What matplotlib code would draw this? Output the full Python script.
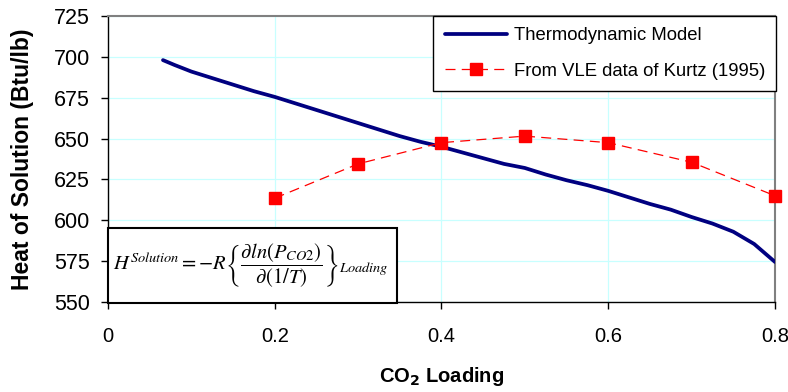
import matplotlib
matplotlib.use("Agg")
import matplotlib.pyplot as plt
from matplotlib.patches import Rectangle

plt.rcParams['font.family'] = ['Liberation Sans', 'DejaVu Sans']
plt.rcParams['mathtext.fontset'] = 'stix'

# Thermodynamic model curve
model_x = [0.066, 0.08, 0.10, 0.125, 0.15, 0.175, 0.20, 0.225, 0.25, 0.275, 0.30,
           0.325, 0.35, 0.375, 0.40, 0.425, 0.45, 0.475, 0.50, 0.525, 0.55,
           0.575, 0.60, 0.625, 0.65, 0.675, 0.70, 0.725, 0.75, 0.775, 0.80]
model_y = [698, 695, 691, 687, 683, 679, 675.5, 671.5, 667.5, 663.5, 659.5,
           655.5, 651.5, 648, 645, 641.5, 638, 634.5, 632, 628, 624.5,
           621.5, 618, 614, 610, 606.5, 602, 598, 593, 585.5, 574.5]

# VLE data of Kurtz (1995)
vle_x = [0.2, 0.3, 0.4, 0.5, 0.6, 0.7, 0.8]
vle_y = [613.5, 634.5, 647.5, 651.5, 647.5, 635.5, 615.0]

xticks = [0, 0.2, 0.4, 0.6, 0.8]
xticklabels = ['0', '0.2', '0.4', '0.6', '0.8']
yticks = [550, 575, 600, 625, 650, 675, 700, 725]

fig = plt.figure(figsize=(7.88, 3.92), dpi=100)
ax = fig.add_axes([0.137, 0.2296, 0.8465, 0.7296])

ax.plot(model_x, model_y, color='#000080', lw=2.7, label='Thermodynamic Model',
        solid_capstyle='round', zorder=3)
ax.plot(vle_x, vle_y, color='#ff0000', lw=0.9, ls=(0, (8, 5)), marker='s',
        markersize=8, markerfacecolor='#ff0000', markeredgecolor='#ff0000',
        label='From VLE data of Kurtz (1995)', zorder=4, clip_on=False)

ax.set_xlim(0, 0.8)
ax.set_ylim(550, 725)
ax.set_xticks(xticks)
ax.set_xticklabels(xticklabels)
ax.set_yticks(yticks)
ax.grid(True, color='#c8ffff', lw=0.9, zorder=0)
ax.set_axisbelow(True)

for s in ['top', 'right']:
    ax.spines[s].set_color('#808080')
    ax.spines[s].set_linewidth(1.5)
for s in ['left', 'bottom']:
    ax.spines[s].set_color('#000000')
    ax.spines[s].set_linewidth(1.0)

ax.tick_params(axis='both', direction='out', length=5, width=1)
ax.tick_params(axis='x', pad=13, labelsize=14.5)
ax.tick_params(axis='y', pad=8, labelsize=15.5)

ax.set_xlabel(r'CO$_\mathbf{2}$ Loading', fontsize=14.5, fontweight='bold', labelpad=14)
ax.xaxis.label.set_math_fontfamily('dejavusans')
ax.set_ylabel('Heat of Solution (Btu/lb)', fontsize=16.5, fontweight='bold', labelpad=14)

leg = ax.legend(loc='upper right', bbox_to_anchor=(1.002, 1.0), borderaxespad=0,
                fontsize=13.3, frameon=True, fancybox=False, edgecolor='black',
                handlelength=3.4, labelspacing=1.0, handletextpad=0.33,
                borderpad=0.62)
leg.get_frame().set_linewidth(1.0)
leg.get_frame().set_alpha(1)

# Equation box
rect = Rectangle((0.0, -0.005), 0.433, 0.265, transform=ax.transAxes,
                 facecolor='white', edgecolor='black', lw=1.5, zorder=5, clip_on=False)
ax.add_patch(rect)
ax.text(0.007, 0.125,
        r'$H^{Solution}=-R\left\{\dfrac{\partial \mathit{ln}\left(P_{CO2}\right)}{\partial\left(1/T\right)}\right\}_{Loading}$',
        transform=ax.transAxes, fontsize=14.8, va='center', ha='left', zorder=6)

fig.savefig('out.png', dpi=100)
